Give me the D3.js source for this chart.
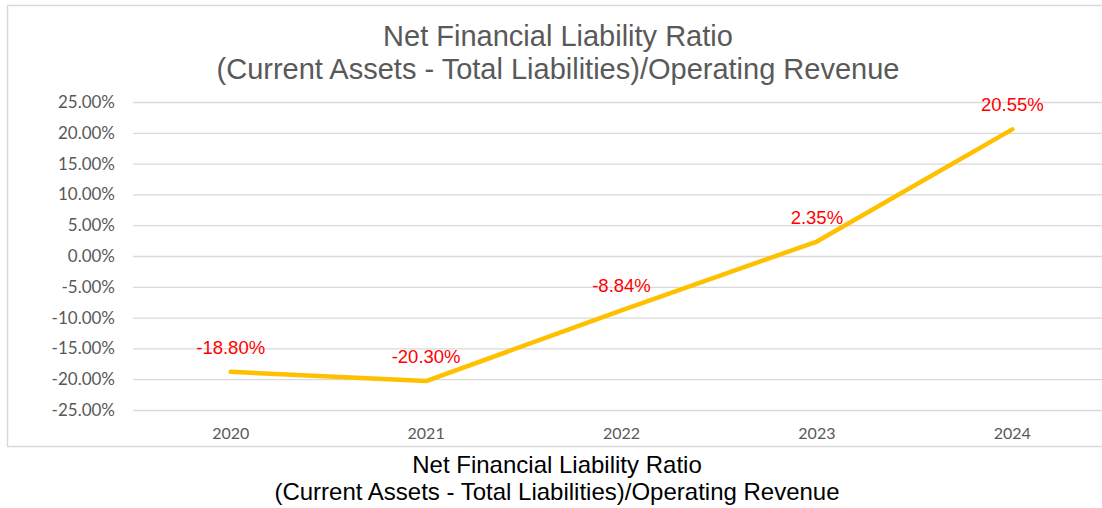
<!DOCTYPE html>
<html>
<head>
<meta charset="utf-8">
<script src="https://cdn.jsdelivr.net/npm/d3@7"></script>
<style>
  body { margin: 0; background: #fff; }
</style>
</head>
<body>
<div id="chart"></div>
<script>
const years = ["2020", "2021", "2022", "2023", "2024"];
const ratio = [-18.80, -20.30, -8.84, 2.35, 20.55];
const yTicks = [25, 20, 15, 10, 5, 0, -5, -10, -15, -20, -25];
const titleLines = ["Net Financial Liability Ratio", "(Current Assets - Total Liabilities)/Operating Revenue"];

const W = 1102, H = 508;
const plot = {left: 133, right: 1110, top: 102, bottom: 410};

const svg = d3.select("#chart")
  .append("svg")
    .attr("width", W)
    .attr("height", H);

// chart frame (runs off the right edge like the original)
svg.append("rect")
  .attr("x", 7.5).attr("y", 5.5)
  .attr("width", 1120).attr("height", 441)
  .attr("fill", "#fff")
  .attr("stroke", "#d9d9d9")
  .attr("stroke-width", 1.5);

var x = d3.scaleBand()
  .domain(years)
  .range([plot.left, plot.right]);

var y = d3.scaleLinear()
  .domain([-25, 25])
  .range([plot.bottom, plot.top]);

// gridlines + y labels
const yAxis = svg.append("g")
  .attr("transform", "translate(" + plot.left + ",0)")
  .call(d3.axisLeft(y)
    .tickValues(yTicks)
    .tickSize(-(plot.right - plot.left))
    .tickPadding(18)
    .tickFormat(d => d.toFixed(2) + "%"));
yAxis.select(".domain").remove();
yAxis.selectAll(".tick line").attr("stroke", "#d9d9d9").attr("stroke-width", 1.3);
yAxis.selectAll(".tick text")
  .attr("fill", "#595959")
  .style("font-family", "Lato, 'Open Sans', sans-serif")
  .style("font-size", "17px");

// x labels
const xAxis = svg.append("g")
  .attr("transform", "translate(0," + plot.bottom + ")")
  .call(d3.axisBottom(x).tickSize(0).tickPadding(18));
xAxis.select(".domain").remove();
xAxis.selectAll(".tick text")
  .attr("fill", "#595959")
  .style("font-family", "Lato, 'Open Sans', sans-serif")
  .style("font-size", "16px");

// line
const line = d3.line()
  .x((d, i) => x(years[i]) + x.bandwidth() / 2)
  .y(d => y(d));

svg.append("path")
  .datum(ratio)
  .attr("d", line)
  .attr("fill", "none")
  .attr("stroke", "#ffc000")
  .attr("stroke-width", 4.5)
  .attr("stroke-linecap", "round")
  .attr("stroke-linejoin", "round");

// data labels
svg.append("g")
  .selectAll("text")
  .data(ratio)
  .enter()
  .append("text")
    .attr("x", (d, i) => x(years[i]) + x.bandwidth() / 2)
    .attr("y", d => y(d) - 18)
    .attr("text-anchor", "middle")
    .attr("fill", "#ff0000")
    .style("font-family", "'Liberation Sans', Arial, sans-serif")
    .style("font-size", "18.5px")
    .text(d => d.toFixed(2) + "%");

// chart title
svg.append("g")
  .selectAll("text")
  .data(titleLines)
  .enter()
  .append("text")
    .attr("x", 558)
    .attr("y", (d, i) => 46 + i * 33)
    .attr("text-anchor", "middle")
    .attr("fill", "#595959")
    .style("font-family", "'Liberation Sans', Arial, sans-serif")
    .style("font-size", "29px")
    .text(d => d);

// caption under the chart
svg.append("g")
  .selectAll("text")
  .data(titleLines)
  .enter()
  .append("text")
    .attr("x", 557)
    .attr("y", (d, i) => 473 + i * 27)
    .attr("text-anchor", "middle")
    .attr("fill", "#000")
    .style("font-family", "'Liberation Sans', Arial, sans-serif")
    .style("font-size", "24px")
    .text(d => d);
</script>
</body>
</html>
